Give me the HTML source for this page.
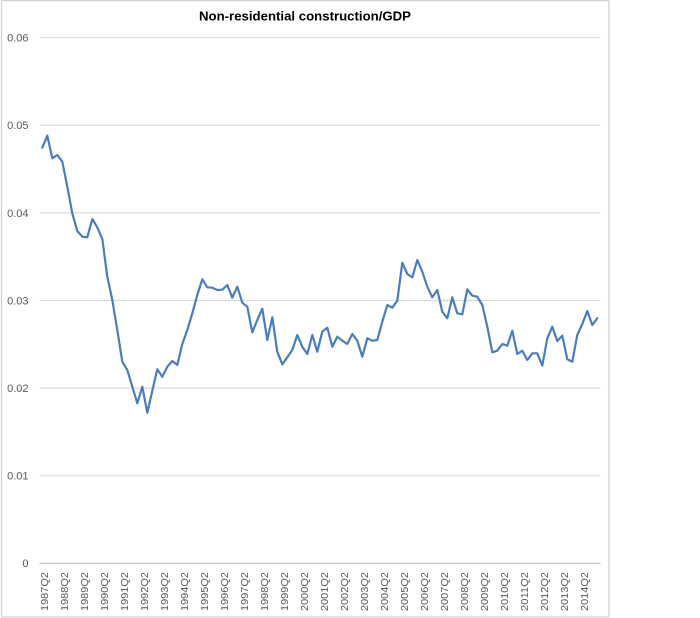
<!DOCTYPE html>
<html>
<head>
<meta charset="utf-8">
<style>
  html, body { margin: 0; padding: 0; background: #ffffff; }
  body { width: 700px; height: 618px; overflow: hidden; }
  svg { display: block; }
</style>
</head>
<body>
<svg width="700" height="618" viewBox="0 0 700 618" xmlns="http://www.w3.org/2000/svg">
  <rect x="0" y="0" width="700" height="618" fill="#ffffff"/>
  <!-- chart border -->
  <rect x="1.5" y="0.5" width="607.5" height="616.5" fill="none" stroke="#d0d0d0" stroke-width="1.2"/>

  <!-- title -->
  <text x="305" y="20.5" text-anchor="middle" font-family="Liberation Sans, sans-serif" font-size="13" font-weight="bold" fill="#000000" textLength="212" lengthAdjust="spacingAndGlyphs">Non-residential construction/GDP</text>

  <!-- gridlines -->
  <g stroke="#d9d9d9" stroke-width="1.2">
    <line x1="39.5" y1="37.7" x2="600.5" y2="37.7"/>
    <line x1="39.5" y1="125.3" x2="600.5" y2="125.3"/>
    <line x1="39.5" y1="212.9" x2="600.5" y2="212.9"/>
    <line x1="39.5" y1="300.5" x2="600.5" y2="300.5"/>
    <line x1="39.5" y1="388.1" x2="600.5" y2="388.1"/>
    <line x1="39.5" y1="475.7" x2="600.5" y2="475.7"/>
  </g>
  <line x1="39.5" y1="563.3" x2="600.5" y2="563.3" stroke="#bfbfbf" stroke-width="1.2"/>

  <!-- y labels -->
  <g font-family="Liberation Sans, sans-serif" font-size="11" fill="#595959" text-anchor="end">
    <text x="28.5" y="41.6">0.06</text>
    <text x="28.5" y="129.2">0.05</text>
    <text x="28.5" y="216.8">0.04</text>
    <text x="28.5" y="304.4">0.03</text>
    <text x="28.5" y="392">0.02</text>
    <text x="28.5" y="479.6">0.01</text>
    <text x="28.5" y="567.2">0</text>
  </g>

  <!-- x labels -->
  <g font-family="Liberation Sans, sans-serif" font-size="10.5" fill="#595959" text-anchor="end">
    <text transform="translate(47.8,572) rotate(-90)" textLength="39" lengthAdjust="spacingAndGlyphs">1987Q2</text>
    <text transform="translate(67.8,572) rotate(-90)" textLength="39" lengthAdjust="spacingAndGlyphs">1988Q2</text>
    <text transform="translate(87.8,572) rotate(-90)" textLength="39" lengthAdjust="spacingAndGlyphs">1989Q2</text>
    <text transform="translate(107.8,572) rotate(-90)" textLength="39" lengthAdjust="spacingAndGlyphs">1990Q2</text>
    <text transform="translate(127.8,572) rotate(-90)" textLength="39" lengthAdjust="spacingAndGlyphs">1991Q2</text>
    <text transform="translate(147.8,572) rotate(-90)" textLength="39" lengthAdjust="spacingAndGlyphs">1992Q2</text>
    <text transform="translate(167.8,572) rotate(-90)" textLength="39" lengthAdjust="spacingAndGlyphs">1993Q2</text>
    <text transform="translate(187.8,572) rotate(-90)" textLength="39" lengthAdjust="spacingAndGlyphs">1994Q2</text>
    <text transform="translate(207.8,572) rotate(-90)" textLength="39" lengthAdjust="spacingAndGlyphs">1995Q2</text>
    <text transform="translate(227.8,572) rotate(-90)" textLength="39" lengthAdjust="spacingAndGlyphs">1996Q2</text>
    <text transform="translate(247.8,572) rotate(-90)" textLength="39" lengthAdjust="spacingAndGlyphs">1997Q2</text>
    <text transform="translate(267.8,572) rotate(-90)" textLength="39" lengthAdjust="spacingAndGlyphs">1998Q2</text>
    <text transform="translate(287.8,572) rotate(-90)" textLength="39" lengthAdjust="spacingAndGlyphs">1999Q2</text>
    <text transform="translate(307.8,572) rotate(-90)" textLength="39" lengthAdjust="spacingAndGlyphs">2000Q2</text>
    <text transform="translate(327.8,572) rotate(-90)" textLength="39" lengthAdjust="spacingAndGlyphs">2001Q2</text>
    <text transform="translate(347.8,572) rotate(-90)" textLength="39" lengthAdjust="spacingAndGlyphs">2002Q2</text>
    <text transform="translate(367.8,572) rotate(-90)" textLength="39" lengthAdjust="spacingAndGlyphs">2003Q2</text>
    <text transform="translate(387.8,572) rotate(-90)" textLength="39" lengthAdjust="spacingAndGlyphs">2004Q2</text>
    <text transform="translate(407.8,572) rotate(-90)" textLength="39" lengthAdjust="spacingAndGlyphs">2005Q2</text>
    <text transform="translate(427.8,572) rotate(-90)" textLength="39" lengthAdjust="spacingAndGlyphs">2006Q2</text>
    <text transform="translate(447.8,572) rotate(-90)" textLength="39" lengthAdjust="spacingAndGlyphs">2007Q2</text>
    <text transform="translate(467.8,572) rotate(-90)" textLength="39" lengthAdjust="spacingAndGlyphs">2008Q2</text>
    <text transform="translate(487.8,572) rotate(-90)" textLength="39" lengthAdjust="spacingAndGlyphs">2009Q2</text>
    <text transform="translate(507.8,572) rotate(-90)" textLength="39" lengthAdjust="spacingAndGlyphs">2010Q2</text>
    <text transform="translate(527.8,572) rotate(-90)" textLength="39" lengthAdjust="spacingAndGlyphs">2011Q2</text>
    <text transform="translate(547.8,572) rotate(-90)" textLength="39" lengthAdjust="spacingAndGlyphs">2012Q2</text>
    <text transform="translate(567.8,572) rotate(-90)" textLength="39" lengthAdjust="spacingAndGlyphs">2013Q2</text>
    <text transform="translate(587.8,572) rotate(-90)" textLength="39" lengthAdjust="spacingAndGlyphs">2014Q2</text>
  </g>

  <!-- series -->
  <polyline fill="none" stroke="#4a7ebb" stroke-width="2.2" stroke-linejoin="round" stroke-linecap="round"
    points="42.3,147.7 47.3,135.7 52.3,158.3 57.3,155 62.3,161.7 67.3,186.7 72.3,213.3 77.3,231 82.3,236.7 87.3,237.3 92.3,219 97.3,227.3 102.3,239 107.3,276.7 112.3,300 117.3,330 122.3,361.7 127.3,370 132.3,386.7 137.3,403.3 142.3,386.7 147.3,412.7 152.3,390.7 157.3,369.3 162.3,376.7 167.3,366.7 172.3,361 177.3,365 182.3,344 187.3,330 192.3,313.3 197.3,295 202.3,279.3 207.3,287.3 212.3,287.7 217.3,290 222.3,289.7 227.3,285 232.3,297.7 237.3,286.7 242.3,302.7 247.3,306.7 252.3,332.3 257.3,320 262.3,308.7 267.3,340 272.3,317.3 277.3,351.7 282.3,364.3 287.3,357.3 292.3,350 297.3,335 302.3,346.7 307.3,354 312.3,335 317.3,351.7 322.3,331.7 327.3,327.7 332.3,346.7 337.3,336.7 342.3,340.7 347.3,344 352.3,334 357.3,340.7 362.3,356.7 367.3,338.3 372.3,340.7 377.3,340 382.3,321.7 387.3,305 392.3,307.7 397.3,300.7 402.3,262.7 407.3,274 412.3,277.3 417.3,260 422.3,271.7 427.3,286.7 432.3,297.3 437.3,290 442.3,311.7 447.3,318.3 452.3,297.3 457.3,313.3 462.3,314.3 467.3,289.3 472.3,295.7 477.3,296.7 482.3,305 487.3,326.7 492.3,352.3 497.3,350.7 502.3,344 507.3,345.7 512.3,330.7 517.3,354 522.3,350.7 527.3,360 532.3,353.3 537.3,353.3 542.3,365.7 547.3,338.3 552.3,326.7 557.3,341 562.3,335.7 567.3,359.3 572.3,361.7 577.3,335 582.3,324 587.3,311 592.3,325 597.3,318.3"/>
</svg>
</body>
</html>
